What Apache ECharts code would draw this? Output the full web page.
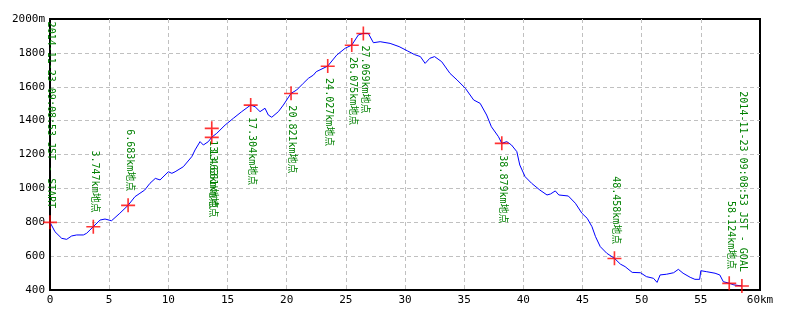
<!doctype html>
<html>
<head>
    <meta charset="UTF-8">
    <title>高度グラフ</title>
    <script src="https://cdn.jsdelivr.net/npm/echarts@6/dist/echarts.min.js"></script>
</head>
<body style="margin: 0">
<div id="main" style="width: 800px; height: 320px;"></div>
<script type="text/javascript">
    // 軌跡の距離(km)と標高(m)
    var trackKm = [0, 0.42, 0.99, 1.41, 1.83, 2.25, 2.82, 3.1, 3.66, 4.23,
        4.65, 5.2, 5.9, 6.6, 7.18, 7.6, 8.0, 8.45, 8.9, 9.3,
        10.0, 10.3, 10.57, 11.27, 11.98, 12.26, 12.68, 12.96, 13.38, 13.67,
        14.09, 14.8, 15.5, 16.2, 16.96, 17.33, 17.75, 18.17, 18.45, 18.74,
        19.3, 19.72, 20.37, 20.85, 21.4, 21.84, 22.26, 22.5, 23.47, 24.23,
        24.94, 25.5, 26.06, 26.48, 26.9, 27.33, 27.9, 28.74, 29.5, 30.2,
        30.8, 31.3, 31.7, 32.1, 32.5, 33.1, 33.8, 34.4, 35.1, 35.8,
        36.35, 36.9, 37.3, 37.9, 38.18, 38.6, 39.0, 39.45, 39.7, 40.15,
        40.7, 41.4, 42.0, 42.3, 42.7, 43.0, 43.8, 44.4, 44.95, 45.4,
        45.8, 46.1, 46.5, 47.05, 47.7, 48.2, 48.6, 49.2, 49.9, 50.4,
        51.0, 51.3, 51.56, 52.1, 52.7, 53.1, 53.5, 54.1, 54.5, 54.9,
        55.0, 55.5, 56.2, 56.6, 56.9, 57.4, 57.8, 58.47];
    var trackElev = [800, 744, 705, 699, 719, 725, 725, 735, 774, 813,
        819, 809, 853, 900, 951, 971, 990, 1030, 1059, 1050,
        1098, 1089, 1098, 1128, 1187, 1227, 1276, 1256, 1276, 1302,
        1325, 1374, 1414, 1453, 1492, 1482, 1453, 1473, 1433, 1420,
        1453, 1492, 1561, 1581, 1620, 1650, 1669, 1689, 1722, 1787,
        1827, 1846, 1906, 1915, 1915, 1860, 1866, 1856, 1837, 1812,
        1790, 1778, 1738, 1768, 1778, 1748, 1679, 1640, 1591, 1522,
        1502, 1433, 1364, 1305, 1266, 1276, 1256, 1217, 1138, 1069,
        1030, 990, 961, 967, 985, 961, 955, 912, 853, 823,
        774, 715, 656, 617, 587, 553, 538, 504, 502, 479,
        469, 445, 489, 493, 502, 522, 499, 475, 463, 463,
        514, 508, 499, 489, 449, 440, 430, 424];

    // 地点マーカー
    var pointKm = [0, 3.66, 6.6, 13.67, 13.67, 16.96, 20.37, 23.47, 25.5, 26.48, 38.18, 47.7, 57.4, 58.47];
    var pointElev = [800, 774, 900, 1355, 1302, 1492, 1561, 1722, 1846, 1915, 1266, 587, 440, 424];
    var pointText = ['2014-11-23 09:08:53 JST - START', '3.747km地点', '6.683km地点',
        '13.463km地点', '13.661km地点', '17.304km地点', '20.821km地点', '24.027km地点',
        '26.075km地点', '27.069km地点', '38.879km地点', '48.458km地点', '58.124km地点',
        '2014-11-23 09:08:53 JST - GOAL'];

    var kmMin = 0, kmMax = 60, kmStep = 5;
    var elevMin = 400, elevMax = 2000, elevStep = 200;

    var lineData = [];
    for (var i = 0; i < trackKm.length; i++) {
        lineData.push([trackKm[i], trackElev[i]]);
    }
    var pointData = [];
    for (var j = 0; j < pointKm.length; j++) {
        pointData.push([pointKm[j], pointElev[j]]);
    }
    var elevMid = (elevMin + elevMax) / 2;

    var myChart = echarts.init(document.getElementById('main'));
    var option = {
        backgroundColor: '#fff',
        animation: false,
        grid: {
            left: 50,
            right: 40,
            top: 19,
            bottom: 30,
            show: true,
            borderColor: '#000',
            borderWidth: 2
        },
        xAxis: {
            type: 'value',
            min: kmMin,
            max: kmMax,
            interval: kmStep,
            axisLine: {lineStyle: {color: '#000', width: 2}},
            axisTick: {show: false},
            axisLabel: {
                color: '#000',
                margin: 5,
                fontFamily: 'DejaVu Sans Mono',
                fontSize: 11,
                formatter: function (v) {
                    return v === kmMax ? v + 'km' : v;
                }
            },
            splitLine: {
                showMinLine: false,
                showMaxLine: false,
                lineStyle: {color: '#c0c0c0', type: [4, 3], width: 1}
            }
        },
        yAxis: {
            type: 'value',
            min: elevMin,
            max: elevMax,
            interval: elevStep,
            axisLine: {show: true, lineStyle: {color: '#000', width: 2}},
            axisTick: {show: false},
            axisLabel: {
                color: '#000',
                margin: 5,
                fontFamily: 'DejaVu Sans Mono',
                fontSize: 11,
                formatter: function (v) {
                    return v === elevMax ? v + 'm' : v;
                }
            },
            splitLine: {
                showMinLine: false,
                showMaxLine: false,
                lineStyle: {color: '#c0c0c0', type: [4, 3], width: 1}
            }
        },
        series: [
            {
                type: 'line',
                data: lineData,
                showSymbol: false,
                lineStyle: {color: '#0000ff', width: 1},
                z: 2
            },
            {
                type: 'scatter',
                data: pointData,
                symbol: 'path://M0,5.4h12v1.4h-12z M5.3,0h1.4v12h-1.4z',
                symbolSize: 14,
                itemStyle: {color: '#ff0000'},
                z: 4
            },
            {
                // 地点ラベル（縦書き）
                type: 'custom',
                data: pointData,
                z: 3,
                renderItem: function (params, api) {
                    var p = api.coord([api.value(0), api.value(1)]);
                    var below = api.value(1) > elevMid;
                    return {
                        type: 'text',
                        x: p[0] + 1,
                        y: below ? p[1] + 12 : p[1] - 14,
                        rotation: -Math.PI / 2,
                        style: {
                            text: pointText[params.dataIndex],
                            fill: '#008000',
                            font: '10px "DejaVu Sans Mono", "Noto Sans CJK JP"',
                            align: below ? 'left' : 'right',
                            verticalAlign: 'middle'
                        }
                    };
                }
            }
        ]
    };
    myChart.setOption(option);
</script>
</body>
</html>
